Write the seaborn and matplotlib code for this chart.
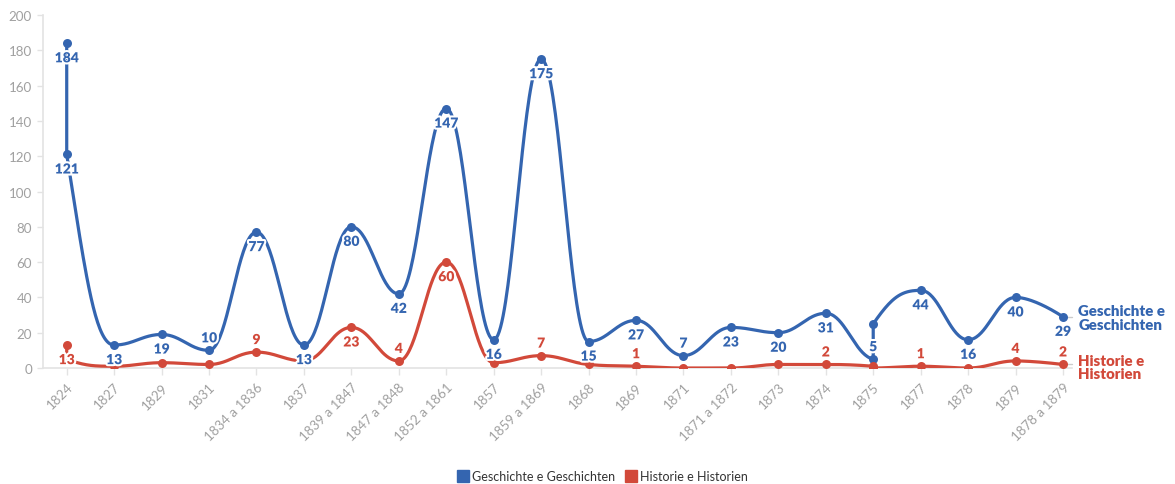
import matplotlib
matplotlib.use("Agg")
import numpy as np
import pandas as pd
import matplotlib.pyplot as plt
import matplotlib.patheffects as pe
from matplotlib.lines import Line2D
import seaborn as sns

# Publication periods (some periods carry two entries at the same position)
periods = ["1824", "1824", "1827", "1829", "1831", "1834 a 1836", "1837",
           "1839 a 1847", "1847 a 1848", "1852 a 1861", "1857", "1859 a 1869",
           "1868", "1869", "1871", "1871 a 1872", "1873", "1874", "1875", "1875",
           "1877", "1878", "1879", "1878 a 1879"]

geschichte = [184, 121, 13, 19, 10, 77, 13, 80, 42, 147, 16, 175,
              15, 27, 7, 23, 20, 31, 5, 25, 44, 16, 40, 29]
historie = [13, 5, 1, 3, 2, 9, 4, 23, 4, 60, 3, 7,
            2, 1, 0, 0, 2, 2, 1, 0, 1, 0, 4, 2]

# Where each value label sits: "b" below the point, "a" above, "" hidden
geschichte_lbl = ["b", "b", "b", "b", "a", "b", "b", "b", "b", "b", "b", "b",
                  "b", "b", "a", "b", "b", "b", "a", "", "b", "b", "b", "b"]
historie_lbl = ["b", "", "", "", "", "a", "", "b", "a", "b", "", "a",
                "", "a", "", "", "", "a", "", "", "a", "", "a", "a"]

series_names = ["Geschichte e Geschichten", "Historie e Historien"]
end_labels = ["Geschichte e\nGeschichten", "Historie e\nHistorien"]
colors = ["#3465b0", "#d2493a"]

GREY_TXT = "#a0a0a0"
AXIS_COL = "#e3e3e3"

order = list(dict.fromkeys(periods))
xpos = pd.Categorical(periods, categories=order, ordered=True).codes.astype(float)


def smooth_path(xs, ys, n=40):
    """Cubic-bezier spline through the points (smoothing factor 1.5)."""
    xs = np.asarray(xs, float)
    ys = np.asarray(ys, float)
    N = len(xs)
    lc = [None] * N
    rc = [None] * N
    for i in range(1, N - 1):
        px, py = xs[i], ys[i]
        lx, ly = xs[i - 1], ys[i - 1]
        nx, ny = xs[i + 1], ys[i + 1]
        lcx = (1.5 * px + lx) / 2.5
        lcy = (1.5 * py + ly) / 2.5
        rcx = (1.5 * px + nx) / 2.5
        rcy = (1.5 * py + ny) / 2.5
        if rcx != lcx:
            corr = (rcy - lcy) * (rcx - px) / (rcx - lcx) + py - rcy
            lcy += corr
            rcy += corr
        if lcy > ly and lcy > py:
            lcy = max(ly, py)
            rcy = 2 * py - lcy
        elif lcy < ly and lcy < py:
            lcy = min(ly, py)
            rcy = 2 * py - lcy
        if rcy > ny and rcy > py:
            rcy = max(ny, py)
            lcy = 2 * py - rcy
        elif rcy < ny and rcy < py:
            rcy = min(ny, py)
            lcy = 2 * py - rcy
        lc[i] = (lcx, lcy)
        rc[i] = (rcx, rcy)
    t = np.linspace(0, 1, n)
    out_x, out_y = [xs[0]], [ys[0]]
    for i in range(1, N):
        p0 = np.array([xs[i - 1], ys[i - 1]])
        p3 = np.array([xs[i], ys[i]])
        p1 = np.array(rc[i - 1]) if rc[i - 1] is not None else p0
        p2 = np.array(lc[i]) if lc[i] is not None else p3
        b = ((1 - t) ** 3)[:, None] * p0 + (3 * (1 - t) ** 2 * t)[:, None] * p1 \
            + (3 * (1 - t) * t ** 2)[:, None] * p2 + (t ** 3)[:, None] * p3
        out_x.extend(b[1:, 0])
        out_y.extend(b[1:, 1])
    return np.array(out_x), np.array(out_y)


sns.set_theme(style="white")
plt.rcParams["font.family"] = ["Lato", "DejaVu Sans"]

fig = plt.figure(figsize=(11.75, 4.85), dpi=100)
ax = fig.add_axes([43 / 1175, 116 / 485, (1072 - 43) / 1175, 353 / 485])

stroke = [pe.withStroke(linewidth=3, foreground="white")]

all_series = [geschichte, historie]
all_lbls = [geschichte_lbl, historie_lbl]

for vals, col in zip(all_series, colors):
    sx, sy = smooth_path(xpos, vals)
    sns.lineplot(x=sx, y=sy, sort=False, estimator=None, color=col,
                 linewidth=2.3, ax=ax, zorder=3)
    sns.scatterplot(x=xpos, y=vals, color=col, s=42, linewidth=0,
                    ax=ax, zorder=4)

for vals, lbls, col in zip(all_series, all_lbls, colors):
    for x, v, pos in zip(xpos, vals, lbls):
        if not pos:
            continue
        dy = -10.5 if pos == "b" else 9.0
        ax.annotate(str(v), (x, v), xytext=(0, dy), textcoords="offset points",
                    ha="center", va="center", fontsize=10, fontweight="heavy",
                    color=col, path_effects=stroke, zorder=6)

# Series names at the right end of each line
for vals, name, col, dy in zip(all_series, end_labels, colors, [-0.5, -2]):
    x_end, y_end = xpos[-1], vals[-1]
    ax.plot([x_end + 0.09, x_end + 0.2], [y_end, y_end], color="#cccccc",
            linewidth=1, clip_on=False, zorder=2)
    ax.annotate(name, (x_end, y_end), xytext=(11, dy), textcoords="offset points",
                ha="left", va="center", fontsize=10.8, fontweight="heavy",
                color=col, linespacing=1.02, annotation_clip=False)

ax.set_xlim(-0.5, 21.19)
ax.set_ylim(0, 200)
ax.set_yticks(np.arange(0, 201, 20))
ax.set_xticks(range(len(order)))
ax.set_xticklabels(order, rotation=45, ha="right", rotation_mode="anchor")
ax.set_xlabel("")
ax.set_ylabel("")

for side in ["top", "right"]:
    ax.spines[side].set_visible(False)
for side in ["left", "bottom"]:
    ax.spines[side].set_color(AXIS_COL)
    ax.spines[side].set_linewidth(1.2)

ax.tick_params(axis="y", left=True, length=4, width=1, color=AXIS_COL,
               labelsize=9.6, labelcolor=GREY_TXT, pad=4)
ax.tick_params(axis="x", bottom=True, length=5, width=1, color=AXIS_COL,
               labelsize=9.6, labelcolor=GREY_TXT, pad=4)
ax.grid(False)

handles = [Line2D([0], [0], marker="s", linestyle="none", markersize=9,
                  markerfacecolor=c, markeredgecolor=c) for c in colors]
fig.legend(handles, series_names, loc="center", bbox_to_anchor=(602 / 1175, 1 - 477 / 485),
           ncol=2, frameon=False, fontsize=9, handletextpad=0.2, columnspacing=0.8,
           labelcolor="#333333", handlelength=1.0)

fig.savefig("out.png", dpi=100)
